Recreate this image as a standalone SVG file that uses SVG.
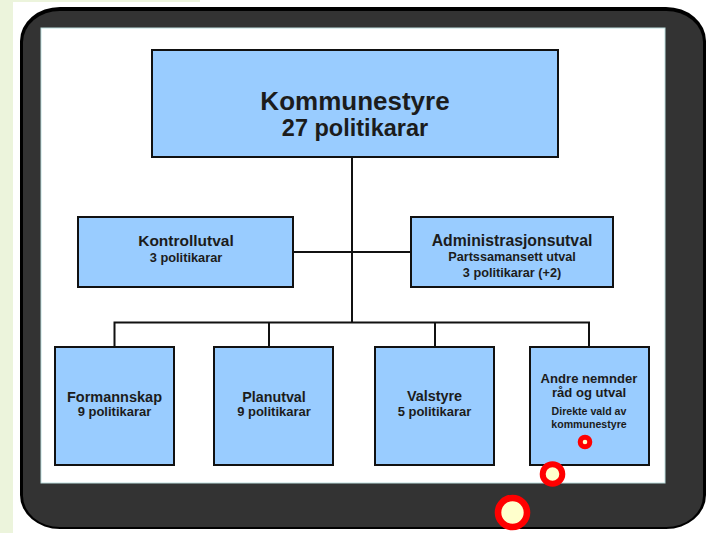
<svg xmlns="http://www.w3.org/2000/svg" width="706" height="533" viewBox="0 0 706 533">
<style>
.box{fill:#99ccff;stroke:#111;stroke-width:2}
.t{font-family:"Liberation Sans",Arial,sans-serif;font-weight:bold;fill:#1c1c1c;text-anchor:middle}
.con{stroke:#111;stroke-width:2;fill:none}
.mark{stroke:#ff0000;fill:#ffffcc}
</style>
<rect x="0" y="0" width="706" height="533" fill="#ffffff"/>
<rect x="0" y="0" width="13" height="533" fill="#ecf4dc"/>
<rect x="0" y="0" width="200" height="2" fill="#ecf4dc"/>
<rect x="20" y="7" width="686" height="522" rx="40" ry="34" fill="#000"/>
<rect x="23" y="11" width="680" height="516" rx="37" ry="31" fill="#333333"/>
<rect x="41" y="28" width="624" height="455" fill="#ffffff" stroke="#bcdede" stroke-width="1"/>

<g id="connectors">
<path class="con" d="M352 157V322.5"/>
<path class="con" d="M293 252H411"/>
<path class="con" d="M114.5 347V322.5H589V347"/>
<path class="con" d="M269 322.5V347M435 322.5V347"/>
</g>

<g id="kommunestyre">
<rect class="box" x="152" y="50" width="406" height="107"/>
<text class="t" x="355" y="110" font-size="26">Kommunestyre</text>
<text class="t" x="355" y="136" font-size="23.5">27 politikarar</text>
</g>
<g id="kontrollutval">
<rect class="box" x="78" y="217" width="215" height="70"/>
<text class="t" x="186" y="246" font-size="15.5">Kontrollutval</text>
<text class="t" x="186" y="262" font-size="12.8">3 politikarar</text>
</g>
<g id="administrasjonsutval">
<rect class="box" x="411" y="217" width="202" height="70"/>
<text class="t" x="512" y="246" font-size="15.8">Administrasjonsutval</text>
<text class="t" x="512" y="260.5" font-size="12.7">Partssamansett utval</text>
<text class="t" x="512" y="276.5" font-size="12.7">3 politikarar (+2)</text>
</g>
<g id="formannskap">
<rect class="box" x="55" y="347" width="119" height="118"/>
<text class="t" x="114.5" y="402" font-size="14.5">Formannskap</text>
<text class="t" x="114.5" y="416" font-size="13">9 politikarar</text>
</g>
<g id="planutval">
<rect class="box" x="214" y="347" width="119" height="118"/>
<text class="t" x="274" y="402" font-size="14.3">Planutval</text>
<text class="t" x="274" y="416" font-size="13">9 politikarar</text>
</g>
<g id="valstyre">
<rect class="box" x="375" y="347" width="119" height="118"/>
<text class="t" x="434.5" y="401" font-size="14.4">Valstyre</text>
<text class="t" x="434.5" y="416" font-size="13">5 politikarar</text>
</g>
<g id="andre">
<rect class="box" x="530" y="347" width="119" height="118"/>
<text class="t" x="589" y="383" font-size="13.1">Andre nemnder</text>
<text class="t" x="589" y="397" font-size="13.1">råd og utval</text>
<text class="t" x="589" y="415" font-size="10.6">Direkte vald av</text>
<text class="t" x="589" y="428" font-size="10.6">kommunestyre</text>
</g>

<g id="markers">
<circle class="mark" cx="585" cy="442" r="4.8" stroke-width="5"/>
<circle class="mark" cx="552.5" cy="474" r="9.8" stroke-width="6"/>
<circle class="mark" cx="512.5" cy="512.5" r="14.5" stroke-width="6.6"/>
</g>
</svg>
